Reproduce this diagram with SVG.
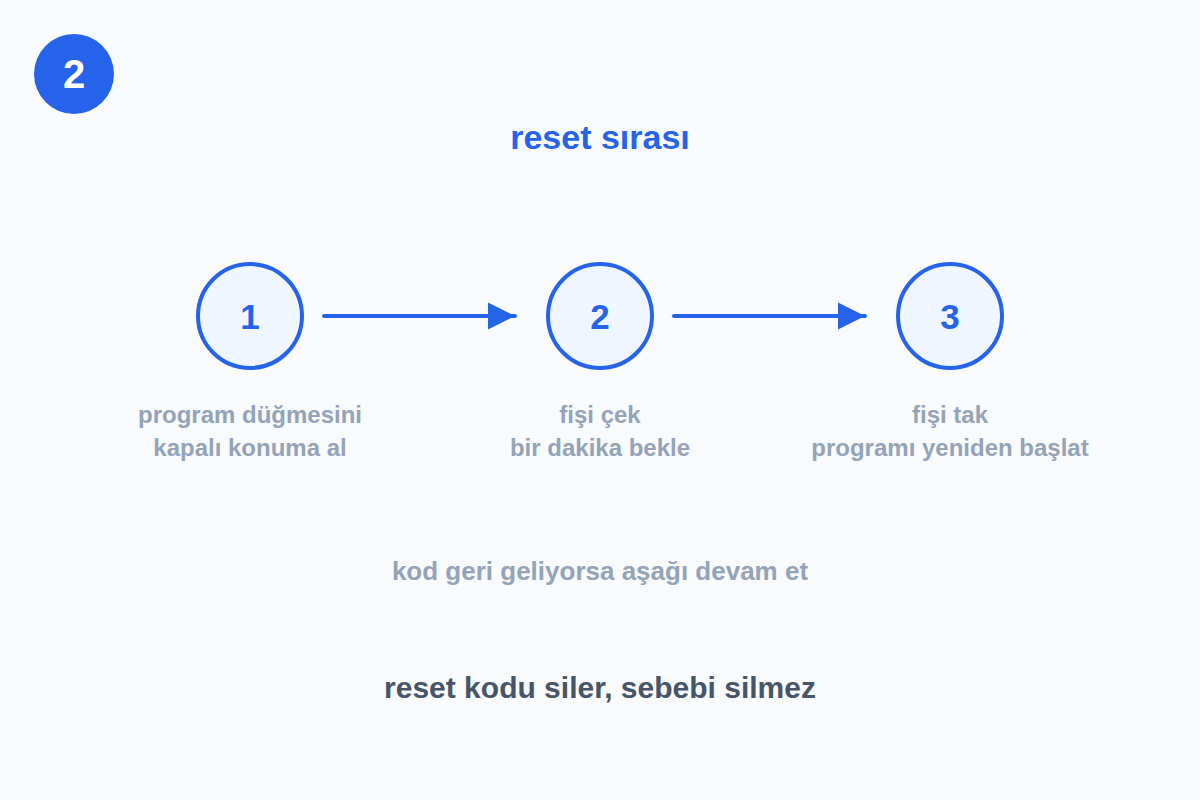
<svg xmlns="http://www.w3.org/2000/svg" width="1200" height="800" viewBox="0 0 1200 800">
<defs>
<style>
text{font-family:"Liberation Sans",Arial,Helvetica,sans-serif;font-weight:bold;text-anchor:middle}
.step{fill:#eff6ff;stroke:#2563eb;stroke-width:4}
.num{fill:#2563eb;font-size:35px}
.lbl{fill:#94a3b8;font-size:24px}
.conn{stroke:#2563eb;stroke-width:4;stroke-linecap:round;fill:none}
</style>
<marker id="ah" viewBox="0 0 10 10" refX="10" refY="5" markerWidth="6.8" markerHeight="6.8" orient="auto" markerUnits="strokeWidth">
<path d="M0,0 L10,5 L0,10 z" fill="#2563eb"/>
</marker>
</defs>
<rect width="1200" height="800" fill="#f8fafc"/>
<g id="badge">
<circle cx="74" cy="74" r="40" fill="#2563eb"/>
<text x="74" y="88" fill="#ffffff" font-size="40">2</text>
</g>
<text id="title" x="600" y="149" fill="#2563eb" font-size="34">reset sırası</text>
<g id="connectors">
<line class="conn" x1="324" y1="316" x2="515" y2="316" marker-end="url(#ah)"/>
<line class="conn" x1="674" y1="316" x2="865" y2="316" marker-end="url(#ah)"/>
</g>
<g id="step1">
<circle class="step" cx="250" cy="316" r="52"/>
<text class="num" x="250" y="329">1</text>
<text class="lbl" x="250" y="423">program düğmesini</text>
<text class="lbl" x="250" y="456">kapalı konuma al</text>
</g>
<g id="step2">
<circle class="step" cx="600" cy="316" r="52"/>
<text class="num" x="600" y="329">2</text>
<text class="lbl" x="600" y="423">fişi çek</text>
<text class="lbl" x="600" y="456">bir dakika bekle</text>
</g>
<g id="step3">
<circle class="step" cx="950" cy="316" r="52"/>
<text class="num" x="950" y="329">3</text>
<text class="lbl" x="950" y="423">fişi tak</text>
<text class="lbl" x="950" y="456">programı yeniden başlat</text>
</g>
<text id="note" x="600" y="580" fill="#94a3b8" font-size="26">kod geri geliyorsa aşağı devam et</text>
<text id="footer" x="600" y="698" fill="#475569" font-size="30">reset kodu siler, sebebi silmez</text>
</svg>
